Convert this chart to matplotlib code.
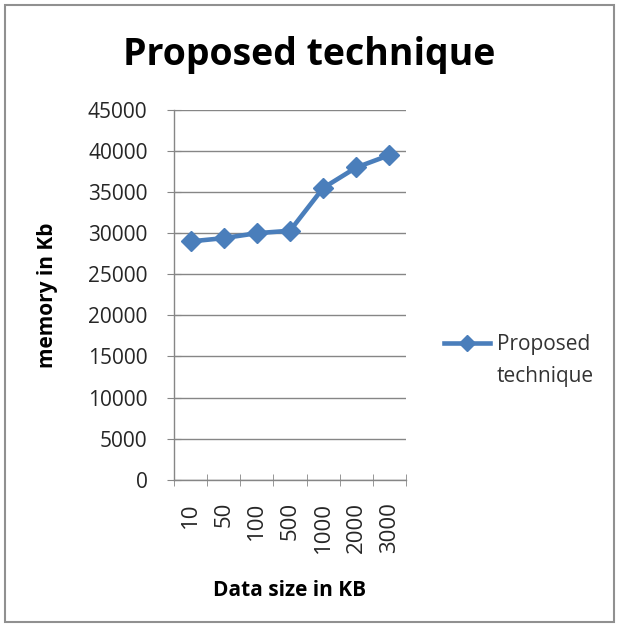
import matplotlib.pyplot as plt
from matplotlib.lines import Line2D
from matplotlib.patches import Rectangle

data_sizes = ["10", "50", "100", "500", "1000", "2000", "3000"]
memory_kb = [29000, 29400, 30000, 30300, 35500, 38000, 39500]
y_ticks = list(range(0, 45001, 5000))
series_name = "Proposed technique"

plt.rcParams["font.family"] = ["Open Sans", "DejaVu Sans"]

LINE_BLUE = "#4a7ebb"
GRID_GRAY = "#868686"
TEXT_DARK = "#262626"

fig = plt.figure(figsize=(6.19, 6.28), dpi=100)
ax = fig.add_axes([0.281, 0.236, 0.375, 0.589])

x = list(range(len(data_sizes)))
ax.plot(x, memory_kb, color=LINE_BLUE, linewidth=3.3, marker="D", markersize=10,
        markerfacecolor=LINE_BLUE, markeredgecolor=LINE_BLUE)

ax.set_xlim(-0.5, len(data_sizes) - 0.5)
ax.set_ylim(0, 45000)
ax.set_yticks(y_ticks)
ax.set_yticklabels([str(v) for v in y_ticks], fontsize=15, color=TEXT_DARK)
ax.set_xticks(x)
ax.set_xticklabels(data_sizes, rotation=90, fontsize=16, color=TEXT_DARK)
ax.set_xticks([i - 0.5 for i in range(len(data_sizes) + 1)], minor=True)
ax.tick_params(axis="x", which="major", length=0, pad=16)
ax.tick_params(axis="x", which="minor", length=9, color=GRID_GRAY, direction="inout")
ax.tick_params(axis="y", length=10, color=GRID_GRAY, direction="inout", pad=14)

ax.grid(axis="y", color=GRID_GRAY, linewidth=1)
ax.set_axisbelow(True)
for side in ["top", "right"]:
    ax.spines[side].set_visible(False)
for side in ["left", "bottom"]:
    ax.spines[side].set_color(GRID_GRAY)
    ax.spines[side].set_linewidth(1)

ax.set_xlabel("Data size in KB", fontsize=15, fontweight="bold", color="black")
ax.xaxis.set_label_coords(0.5, -0.27)
ax.set_ylabel("memory in Kb", fontsize=15, fontweight="bold", color="black")
ax.yaxis.set_label_coords(-0.50, 0.5)

fig.text(0.5, 0.913, series_name, ha="center", va="center",
         fontsize=27, fontweight="bold", color="black")

# legend key: short line with a diamond in the middle, label over two lines
key = Line2D([0.718, 0.755, 0.792], [0.454, 0.454, 0.454], transform=fig.transFigure,
             color=LINE_BLUE, linewidth=3.3, marker="D", markersize=8, markevery=[1])
fig.add_artist(key)
first, second = series_name.split(" ")
fig.text(0.803, 0.452, first, ha="left", va="center", fontsize=15, color="#333333")
fig.text(0.803, 0.401, second, ha="left", va="center", fontsize=15, color="#333333")

fig.patches.append(Rectangle((0.008, 0.01), 0.984, 0.982, transform=fig.transFigure,
                             fill=False, edgecolor="#909090", linewidth=1.5))

fig.savefig("out.png", dpi=100)
